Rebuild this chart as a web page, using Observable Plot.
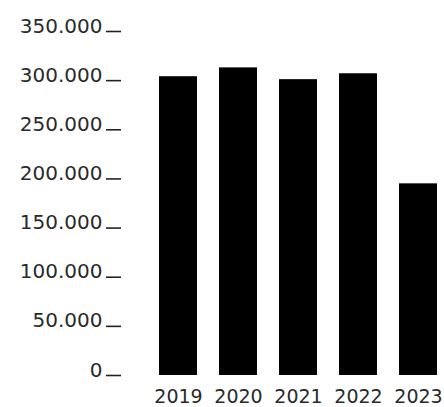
<!DOCTYPE html>
<html>
<head>
<meta charset="utf-8">
<script src="https://cdn.jsdelivr.net/npm/d3@7"></script>
<script src="https://cdn.jsdelivr.net/npm/@observablehq/plot@0.6"></script>
<style>
  html, body { margin: 0; padding: 0; background: #fff; }
  #chart svg { display: block; }
</style>
</head>
<body>
<div id="chart"></div>
<script>
const years = ["2019", "2020", "2021", "2022", "2023"];
const values = [304000, 313000, 301000, 307000, 195000];
const yTicks = [0, 50000, 100000, 150000, 200000, 250000, 300000, 350000];

const data = years.map((year, i) => ({year, value: values[i]}));
const fmt = v => d3.format(",")(v).replace(/,/g, ".");

const chart = Plot.plot({
  width: 444,
  height: 407,
  marginTop: 31,
  marginLeft: 121,
  marginRight: 7,
  marginBottom: 32,
  style: {fontFamily: "DejaVu Sans", background: "#fff", color: "#2a2a2a"},
  x: {type: "band", domain: years, paddingInner: 0.372, paddingOuter: 0.29, align: 1},
  y: {domain: [0, 350000]},
  marks: [
    Plot.barY(data, {x: "year", y: "value", fill: "#000"}),
    // tick marks at the value positions
    Plot.axisY({
      ticks: yTicks,
      tickFormat: () => "",
      tickSize: 15,
      strokeWidth: 1.6,
      stroke: "#222",
      label: null
    }),
    // labels sitting on the tick line
    Plot.axisY({
      ticks: yTicks,
      tickFormat: fmt,
      tickSize: 0,
      tickPadding: 19,
      lineAnchor: "bottom",
      dy: 1,
      fontSize: 20,
      fill: "#2a2a2a",
      label: null
    }),
    Plot.axisX({
      tickSize: 0,
      tickPadding: 14,
      fontSize: 19,
      fill: "#2a2a2a",
      label: null
    })
  ]
});
document.getElementById("chart").append(chart);
</script>
</body>
</html>
